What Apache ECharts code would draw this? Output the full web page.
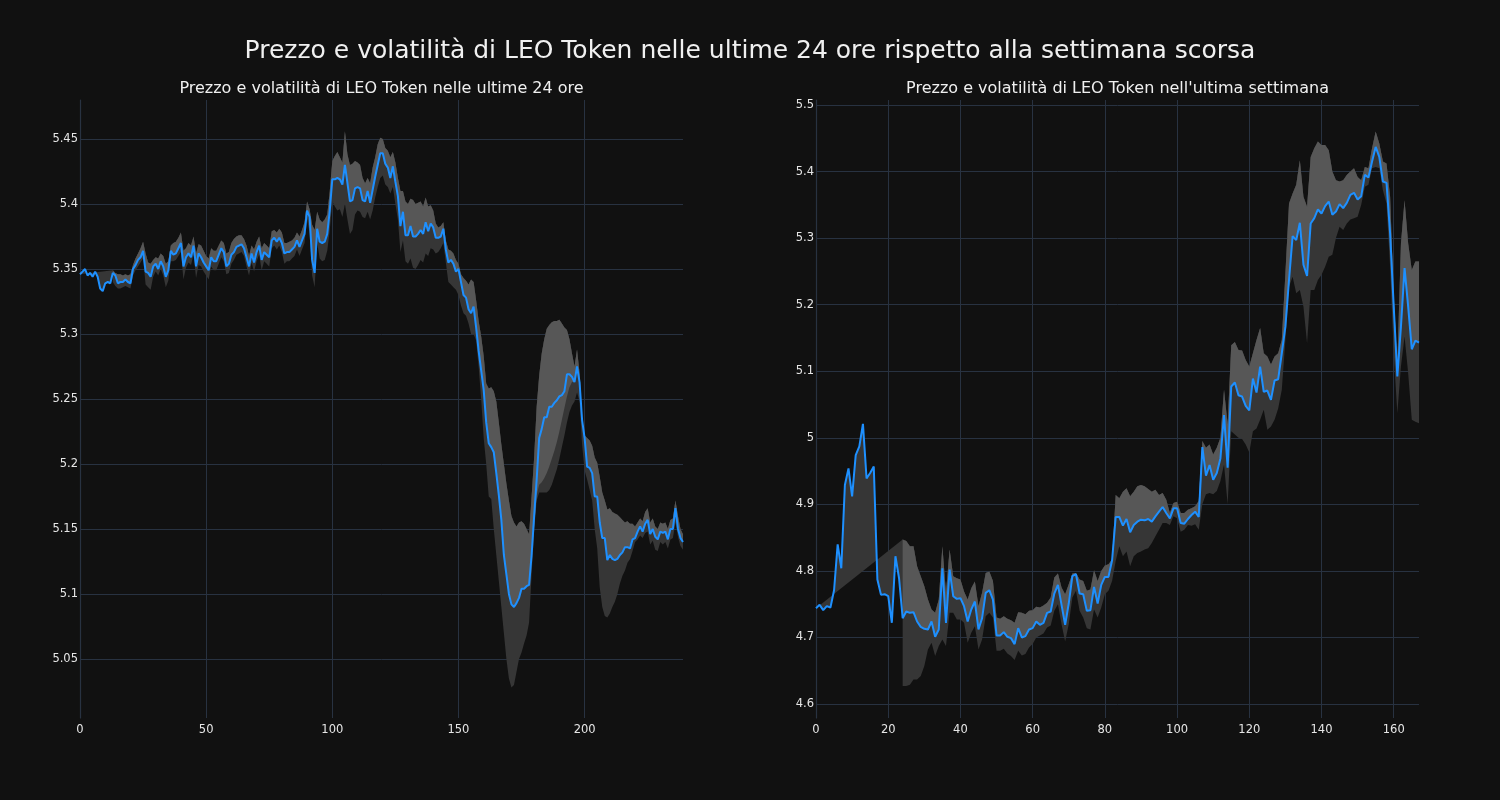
<!DOCTYPE html>
<html><head><meta charset="utf-8">
<script src="https://cdn.jsdelivr.net/npm/echarts@6/dist/echarts.min.js"></script>
<style>html,body{margin:0;padding:0;background:#111111;}#c{width:1500px;height:800px;}</style>
</head><body><div id="c"></div>
<script>
// ---- Left panel: last 24 hours (sample index 0..239) ----
const leftPrice = [
5.346,5.348,5.350,5.345,5.347,5.344,5.348,5.344,5.335,5.333,
5.339,5.340,5.339,5.347,5.345,5.339,5.340,5.340,5.342,5.340,
5.339,5.350,5.353,5.357,5.359,5.364,5.348,5.347,5.344,5.352,
5.354,5.350,5.356,5.352,5.344,5.349,5.364,5.361,5.362,5.366,
5.370,5.352,5.359,5.362,5.359,5.368,5.352,5.362,5.359,5.355,
5.352,5.349,5.359,5.356,5.356,5.361,5.366,5.363,5.352,5.354,
5.361,5.363,5.367,5.368,5.369,5.366,5.359,5.352,5.362,5.355,
5.363,5.368,5.357,5.363,5.361,5.359,5.372,5.374,5.371,5.374,
5.370,5.362,5.363,5.363,5.365,5.367,5.372,5.367,5.372,5.377,
5.395,5.390,5.357,5.347,5.381,5.371,5.370,5.371,5.377,5.395,
5.419,5.419,5.420,5.419,5.415,5.430,5.416,5.402,5.403,5.412,
5.413,5.412,5.403,5.402,5.410,5.401,5.411,5.421,5.430,5.439,
5.439,5.431,5.428,5.420,5.429,5.417,5.406,5.383,5.394,5.376,
5.376,5.383,5.375,5.375,5.377,5.380,5.377,5.386,5.379,5.385,
5.382,5.374,5.374,5.375,5.381,5.365,5.355,5.357,5.354,5.348,
5.350,5.340,5.330,5.328,5.319,5.316,5.321,5.305,5.287,5.272,
5.257,5.232,5.216,5.213,5.209,5.193,5.176,5.157,5.130,5.115,
5.100,5.092,5.090,5.093,5.097,5.104,5.104,5.106,5.107,5.130,
5.160,5.188,5.220,5.227,5.236,5.236,5.244,5.244,5.247,5.249,
5.252,5.253,5.256,5.269,5.269,5.267,5.263,5.275,5.263,5.234,
5.220,5.198,5.197,5.193,5.175,5.175,5.155,5.143,5.143,5.126,
5.130,5.127,5.126,5.127,5.130,5.132,5.136,5.136,5.135,5.142,
5.143,5.148,5.152,5.148,5.154,5.157,5.146,5.150,5.144,5.142,
5.148,5.147,5.148,5.142,5.150,5.150,5.166,5.150,5.143,5.140];
const leftUpper = [
null,null,null,null,null,null,null,null,null,null,null,null,null,
5.349,5.347,5.346,5.346,5.345,5.346,5.345,
5.346,5.353,5.358,5.362,5.366,5.371,5.362,5.355,5.354,5.357,
5.359,5.358,5.362,5.360,5.354,5.356,5.368,5.370,5.371,5.374,
5.378,5.364,5.366,5.370,5.368,5.375,5.362,5.369,5.368,5.364,
5.360,5.358,5.366,5.364,5.364,5.368,5.372,5.370,5.362,5.363,
5.370,5.373,5.375,5.376,5.376,5.373,5.368,5.360,5.368,5.365,
5.371,5.375,5.366,5.370,5.368,5.366,5.379,5.380,5.378,5.381,
5.378,5.370,5.370,5.371,5.372,5.374,5.378,5.375,5.380,5.386,
5.402,5.396,5.384,5.380,5.394,5.388,5.386,5.388,5.392,5.410,
5.433,5.437,5.440,5.436,5.432,5.456,5.438,5.430,5.431,5.433,
5.432,5.430,5.420,5.416,5.420,5.416,5.428,5.436,5.446,5.451,
5.450,5.443,5.441,5.436,5.440,5.432,5.420,5.410,5.410,5.402,
5.400,5.404,5.403,5.400,5.401,5.402,5.398,5.405,5.398,5.399,
5.395,5.385,5.382,5.383,5.386,5.372,5.365,5.364,5.362,5.357,
5.354,5.346,5.343,5.341,5.338,5.342,5.340,5.326,5.310,5.298,
5.283,5.262,5.258,5.259,5.256,5.248,5.232,5.215,5.200,5.185,
5.172,5.160,5.155,5.152,5.155,5.156,5.154,5.150,5.146,5.175,
5.205,5.244,5.268,5.285,5.296,5.304,5.307,5.309,5.310,5.310,
5.311,5.308,5.305,5.303,5.296,5.285,5.275,5.288,5.270,5.235,
5.222,5.220,5.218,5.214,5.205,5.201,5.190,5.178,5.172,5.165,
5.166,5.163,5.162,5.161,5.159,5.157,5.155,5.156,5.154,5.154,
5.152,5.155,5.158,5.156,5.163,5.166,5.155,5.158,5.152,5.150,
5.155,5.154,5.155,5.150,5.157,5.158,5.172,5.160,5.150,5.146];
const leftLower = [
null,null,null,null,null,null,null,null,null,null,null,null,null,
5.340,5.337,5.335,5.335,5.336,5.337,5.336,
5.335,5.345,5.349,5.352,5.355,5.358,5.338,5.336,5.334,5.344,
5.348,5.345,5.350,5.345,5.336,5.341,5.356,5.356,5.357,5.360,
5.363,5.342,5.351,5.355,5.353,5.361,5.343,5.353,5.352,5.348,
5.345,5.342,5.352,5.349,5.349,5.354,5.359,5.356,5.346,5.347,
5.354,5.357,5.361,5.362,5.363,5.360,5.352,5.345,5.355,5.348,
5.356,5.361,5.349,5.356,5.354,5.352,5.366,5.368,5.365,5.368,
5.363,5.354,5.356,5.356,5.358,5.360,5.365,5.360,5.365,5.370,
5.388,5.378,5.345,5.336,5.370,5.358,5.356,5.357,5.364,5.380,
5.402,5.398,5.395,5.396,5.390,5.400,5.388,5.377,5.380,5.392,
5.395,5.394,5.390,5.389,5.394,5.388,5.395,5.405,5.413,5.420,
5.422,5.415,5.413,5.408,5.413,5.400,5.388,5.363,5.372,5.356,
5.354,5.358,5.351,5.350,5.353,5.357,5.355,5.362,5.360,5.366,
5.365,5.362,5.363,5.366,5.370,5.355,5.340,5.338,5.336,5.334,
5.330,5.322,5.316,5.314,5.308,5.300,5.300,5.295,5.275,5.250,
5.220,5.200,5.175,5.173,5.150,5.130,5.110,5.090,5.070,5.050,
5.035,5.028,5.030,5.040,5.050,5.055,5.062,5.068,5.078,5.115,
5.148,5.172,5.178,5.178,5.178,5.178,5.180,5.184,5.190,5.196,
5.204,5.213,5.222,5.232,5.240,5.245,5.248,5.255,5.248,5.215,
5.195,5.188,5.180,5.172,5.150,5.135,5.105,5.090,5.083,5.082,
5.085,5.090,5.094,5.100,5.108,5.114,5.118,5.124,5.127,5.133,
5.140,5.142,5.145,5.143,5.147,5.148,5.138,5.141,5.134,5.133,
5.140,5.138,5.140,5.135,5.142,5.143,5.155,5.144,5.137,5.134];
// light/dark divider where it departs from the price line (index: value)
const leftDivider = {
180: 5.152, 181: 5.176, 182: 5.184, 183: 5.186, 184: 5.189, 185: 5.193, 186: 5.198,
187: 5.204, 188: 5.210, 189: 5.217, 190: 5.225, 191: 5.234, 192: 5.243, 193: 5.252,
194: 5.259, 195: 5.263, 196: 5.263
};

// ---- Right panel: last week (sample index 0..167) ----
const rightPrice = [
4.744,4.749,4.741,4.747,4.745,4.771,4.840,4.804,4.929,4.954,
4.912,4.974,4.987,5.021,4.939,4.947,4.957,4.787,4.764,4.765,
4.762,4.722,4.822,4.789,4.729,4.739,4.737,4.738,4.724,4.716,
4.713,4.712,4.724,4.701,4.712,4.804,4.722,4.802,4.762,4.758,
4.759,4.747,4.724,4.742,4.754,4.712,4.729,4.767,4.771,4.757,
4.703,4.703,4.708,4.701,4.699,4.690,4.714,4.700,4.702,4.712,
4.714,4.724,4.719,4.722,4.737,4.739,4.766,4.779,4.749,4.719,
4.751,4.792,4.795,4.766,4.765,4.740,4.741,4.776,4.751,4.779,
4.791,4.791,4.816,4.881,4.881,4.868,4.878,4.858,4.869,4.874,
4.877,4.876,4.878,4.874,4.882,4.889,4.896,4.887,4.879,4.894,
4.894,4.872,4.871,4.878,4.884,4.889,4.881,4.986,4.943,4.959,
4.937,4.947,4.969,5.034,4.955,5.077,5.083,5.064,5.062,5.048,
5.041,5.089,5.068,5.107,5.069,5.071,5.057,5.086,5.088,5.127,
5.167,5.237,5.303,5.297,5.323,5.260,5.243,5.322,5.330,5.343,
5.337,5.348,5.355,5.335,5.340,5.351,5.345,5.353,5.365,5.368,
5.358,5.363,5.395,5.391,5.415,5.437,5.422,5.385,5.383,5.307,
5.197,5.092,5.167,5.255,5.197,5.133,5.146,5.143];
const rightUpper = [
null,null,null,null,null,null,null,null,null,null,null,null,
null,null,null,null,null,null,null,null,null,null,null,null,
4.847,4.845,4.837,4.837,4.807,4.792,
4.777,4.757,4.742,4.737,4.757,4.837,4.767,4.832,4.792,4.789,
4.787,4.769,4.757,4.774,4.784,4.747,4.767,4.797,4.799,4.785,
4.730,4.728,4.732,4.728,4.726,4.722,4.738,4.737,4.735,4.740,
4.741,4.746,4.745,4.748,4.752,4.760,4.790,4.796,4.775,4.765,
4.780,4.796,4.797,4.787,4.785,4.770,4.772,4.801,4.785,4.800,
4.808,4.810,4.817,4.914,4.909,4.919,4.924,4.912,4.919,4.927,
4.929,4.927,4.923,4.919,4.922,4.914,4.917,4.907,4.887,4.902,
4.904,4.887,4.887,4.892,4.894,4.897,4.905,4.995,4.985,4.990,
4.975,4.985,5.000,5.072,5.020,5.139,5.144,5.132,5.131,5.117,
5.107,5.127,5.147,5.165,5.127,5.122,5.110,5.122,5.127,5.147,
5.247,5.352,5.367,5.380,5.417,5.362,5.347,5.422,5.435,5.445,
5.440,5.440,5.432,5.400,5.387,5.385,5.387,5.395,5.400,5.405,
5.392,5.387,5.407,5.405,5.435,5.460,5.442,5.415,5.412,5.362,
5.212,5.110,5.292,5.357,5.292,5.252,5.265,5.265];
const rightLower = [
null,null,null,null,null,null,null,null,null,null,null,null,
null,null,null,null,null,null,null,null,null,null,null,null,
4.627,4.627,4.629,4.637,4.637,4.642,
4.657,4.682,4.692,4.672,4.687,4.697,4.687,4.737,4.737,4.727,
4.727,4.722,4.692,4.707,4.717,4.682,4.697,4.732,4.737,4.730,
4.680,4.680,4.683,4.676,4.672,4.666,4.680,4.673,4.675,4.685,
4.690,4.700,4.703,4.706,4.715,4.718,4.740,4.750,4.720,4.694,
4.720,4.760,4.770,4.740,4.730,4.714,4.712,4.742,4.730,4.745,
4.765,4.770,4.785,4.815,4.837,4.822,4.829,4.807,4.822,4.827,
4.829,4.832,4.834,4.842,4.852,4.862,4.872,4.872,4.869,4.882,
4.879,4.859,4.862,4.869,4.868,4.870,4.862,4.900,4.915,4.917,
4.915,4.920,4.935,4.960,4.900,5.010,5.005,5.000,4.998,4.990,
4.978,5.010,5.014,5.027,5.042,5.012,5.017,5.027,5.044,5.072,
5.147,5.227,5.242,5.217,5.222,5.197,5.142,5.222,5.222,5.237,
5.245,5.257,5.272,5.275,5.300,5.317,5.312,5.322,5.328,5.330,
5.332,5.350,5.377,5.380,5.405,5.407,5.405,5.372,5.352,5.257,
5.127,5.037,5.107,5.152,5.097,5.027,5.024,5.022];
const rightDivider = {};

const SUPTITLE = "Prezzo e volatilità di LEO Token nelle ultime 24 ore rispetto alla settimana scorsa";
const TITLE_L = "Prezzo e volatilità di LEO Token nelle ultime 24 ore";
const TITLE_R = "Prezzo e volatilità di LEO Token nell'ultima settimana";

const FONT = "DejaVu Sans";
const GRID_COLOR = '#283241';
const LABEL_COLOR = '#e6e6e6';
const LINE_COLOR = '#1e90ff';
const BAND_DARK = '#363636';
const BAND_LIGHT = '#575757';

function toXY(arr) { return arr.map((v, i) => [i, v]); }

function bandRenderer(price, upper, lower, divider) {
  return function (params, api) {
    if (params.dataIndex !== 0) return null;
    const pts = a => a.map((v, i) => (v == null ? null : api.coord([i, v]))).filter(p => p);
    const p = pts(price), u = pts(upper), l = pts(lower);
    // divider between the light (upper) and dark (lower) parts of the band
    const mid = [];
    for (let i = 0; i < price.length; i++) {
      if (upper[i] == null || lower[i] == null) continue;
      let m = divider[i] != null ? divider[i] : price[i];
      m = Math.min(Math.max(m, lower[i]), upper[i]);
      mid.push(api.coord([i, m]));
    }
    const bandPoly = u.concat(l.slice().reverse());
    const priceUpPoly = p.concat(u.slice().reverse());
    const lightPoly = mid.concat(u.slice().reverse());
    return {
      type: 'group',
      children: [
        { type: 'polygon', shape: { points: bandPoly }, style: { fill: BAND_DARK } },
        { type: 'polygon', shape: { points: priceUpPoly }, style: { fill: BAND_DARK } },
        { type: 'polygon', shape: { points: lightPoly }, style: { fill: BAND_LIGHT } }
      ]
    };
  };
}

function xAxisCfg(gridIndex, max, interval) {
  return {
    type: 'value', gridIndex, min: 0, max, interval,
    axisLine: { show: false }, axisTick: { show: false },
    axisLabel: { color: LABEL_COLOR, fontSize: 11.5, fontFamily: FONT, margin: 6, showMaxLabel: false },
    splitLine: { show: true, showMaxLine: false, lineStyle: { color: GRID_COLOR, width: 1 } }
  };
}
function yAxisCfg(gridIndex, min, max, step) {
  return {
    type: 'value', gridIndex, min, max, minInterval: step, maxInterval: step, splitNumber: 10,
    axisLine: { show: true, lineStyle: { color: GRID_COLOR, width: 1.2 } },
    axisTick: { show: false },
    axisLabel: { color: LABEL_COLOR, fontSize: 11.5, fontFamily: FONT, margin: 2, showMinLabel: false, showMaxLabel: false },
    splitLine: { show: true, showMinLine: false, showMaxLine: false, lineStyle: { color: GRID_COLOR, width: 1 } }
  };
}

const chart = echarts.init(document.getElementById('c'), null, { renderer: 'canvas', width: 1500, height: 800 });
chart.setOption({
  backgroundColor: '#111111',
  animation: false,
  graphic: [
    { type: 'text', x: 750, y: 51, style: { text: SUPTITLE, fill: '#f0f0f0', font: '25px "DejaVu Sans"', textAlign: 'center', textVerticalAlign: 'middle' } },
    { type: 'text', x: 381.5, y: 89, style: { text: TITLE_L, fill: '#f0f0f0', font: '16px "DejaVu Sans"', textAlign: 'center', textVerticalAlign: 'middle' } },
    { type: 'text', x: 1117.5, y: 89, style: { text: TITLE_R, fill: '#f0f0f0', font: '16px "DejaVu Sans"', textAlign: 'center', textVerticalAlign: 'middle' } }
  ],
  grid: [
    { left: 80, top: 100, width: 603, height: 618 },
    { left: 816, top: 100, width: 603, height: 618 }
  ],
  xAxis: [xAxisCfg(0, 239, 50), xAxisCfg(1, 167, 20)],
  yAxis: [yAxisCfg(0, 5.0046, 5.48, 0.05), yAxisCfg(1, 4.579, 5.5075, 0.1)],
  series: [
    { type: 'custom', xAxisIndex: 0, yAxisIndex: 0, silent: true, clip: true, z: 1,
      renderItem: bandRenderer(leftPrice, leftUpper, leftLower, leftDivider),
      data: [[0, leftPrice[0]]], encode: { x: 0, y: 1 } },
    { type: 'line', xAxisIndex: 0, yAxisIndex: 0, data: toXY(leftPrice), showSymbol: false, silent: true, z: 3,
      lineStyle: { color: LINE_COLOR, width: 2 } },
    { type: 'custom', xAxisIndex: 1, yAxisIndex: 1, silent: true, clip: true, z: 1,
      renderItem: bandRenderer(rightPrice, rightUpper, rightLower, rightDivider),
      data: [[0, rightPrice[0]]], encode: { x: 0, y: 1 } },
    { type: 'line', xAxisIndex: 1, yAxisIndex: 1, data: toXY(rightPrice), showSymbol: false, silent: true, z: 3,
      lineStyle: { color: LINE_COLOR, width: 2 } }
  ]
});
</script>
</body></html>
